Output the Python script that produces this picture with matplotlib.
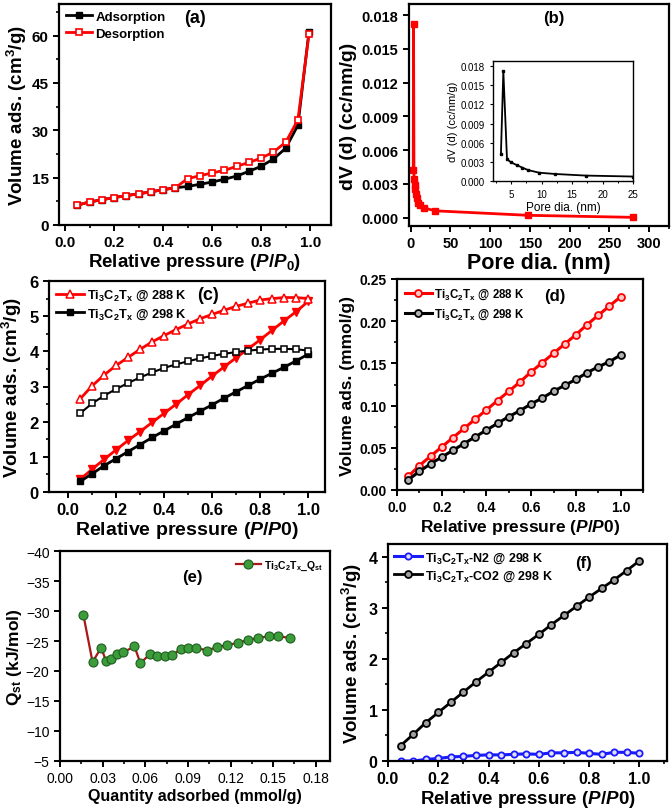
import matplotlib
matplotlib.use("Agg")
import matplotlib.pyplot as plt
from matplotlib.ticker import MultipleLocator, FormatStrFormatter

plt.rcParams['font.family'] = ['Liberation Sans', 'DejaVu Sans']
plt.rcParams['font.weight'] = 'bold'
plt.rcParams['axes.labelweight'] = 'bold'
plt.rcParams['mathtext.fontset'] = 'custom'
plt.rcParams['mathtext.rm'] = 'Liberation Sans:bold'
plt.rcParams['mathtext.bf'] = 'Liberation Sans:bold'
plt.rcParams['mathtext.it'] = 'Liberation Sans:bold:italic'
plt.rcParams['mathtext.default'] = 'bf'

# ---------------- data ----------------
# (a) N2 isotherm
a_x = [0.05, 0.10, 0.15, 0.20, 0.25, 0.30, 0.35, 0.40, 0.45, 0.50, 0.55, 0.60, 0.65,
       0.70, 0.75, 0.80, 0.85, 0.90, 0.95, 0.995]
a_ads = [6.3, 7.3, 8.0, 8.7, 9.3, 9.9, 10.5, 11.2, 11.8, 12.2, 12.9, 13.6, 14.5,
         15.5, 17.0, 18.6, 20.9, 24.3, 31.6, 61.2]
a_des = [6.3, 7.3, 8.0, 8.7, 9.3, 9.9, 10.5, 11.2, 11.8, 14.7, 15.6, 16.5, 17.3,
         18.6, 19.8, 21.2, 23.1, 26.2, 33.3, 60.4]

# (b) pore size distribution
b_d = [3.3, 3.7, 4.3, 5.0, 5.9, 6.8, 7.8, 9.6, 12.2, 17.2, 31.0, 148.0, 280.0]
b_dv = [0.0042, 0.0172, 0.0034, 0.0029, 0.0025, 0.0021, 0.0017, 0.0013, 0.0011,
        0.00085, 0.0006, 0.0002, 0.00002]
inset_d = [3.3, 3.7, 4.3, 5.0, 5.9, 6.8, 7.8, 9.6, 12.2, 17.2, 25.0]
inset_dv = [0.0042, 0.0172, 0.0034, 0.0029, 0.0025, 0.0021, 0.0017, 0.0013, 0.0011,
            0.00085, 0.0007]

# (c) CO2 isotherms
p = [0.05, 0.10, 0.15, 0.20, 0.25, 0.30, 0.35, 0.40, 0.45, 0.50, 0.55, 0.60, 0.65,
     0.70, 0.75, 0.80, 0.85, 0.90, 0.95, 1.00]
c288_ads = [0.36, 0.65, 0.93, 1.20, 1.47, 1.72, 1.98, 2.24, 2.50, 2.77, 3.03, 3.30,
            3.56, 3.82, 4.07, 4.33, 4.60, 4.87, 5.13, 5.42]
c288_des = [2.65, 3.02, 3.33, 3.60, 3.83, 4.06, 4.27, 4.45, 4.62, 4.78, 4.93, 5.05,
            5.17, 5.28, 5.37, 5.46, 5.50, 5.53, 5.53, 5.50]
c298_ads = [0.30, 0.52, 0.75, 0.95, 1.15, 1.35, 1.55, 1.74, 1.93, 2.12, 2.30, 2.48,
            2.67, 2.85, 3.03, 3.21, 3.38, 3.55, 3.73, 3.92]
c298_des = [2.24, 2.52, 2.74, 2.93, 3.10, 3.26, 3.40, 3.53, 3.63, 3.72, 3.80, 3.87,
            3.93, 3.98, 4.02, 4.05, 4.07, 4.07, 4.06, 4.02]

# (d) mmol/g
d288 = [0.016, 0.029, 0.040, 0.051, 0.062, 0.073, 0.084, 0.095, 0.106, 0.117, 0.128,
        0.140, 0.151, 0.162, 0.173, 0.184, 0.196, 0.207, 0.218, 0.229]
d298 = [0.012, 0.022, 0.031, 0.039, 0.047, 0.055, 0.063, 0.071, 0.079, 0.087, 0.094,
        0.102, 0.109, 0.117, 0.124, 0.131, 0.139, 0.146, 0.152, 0.160]

# (e) Qst
e_q = [0.0164, 0.0229, 0.0290, 0.0323, 0.0358, 0.0402, 0.0444, 0.0524, 0.0566, 0.0636,
       0.0683, 0.0739, 0.0790, 0.0849, 0.0898, 0.0959, 0.1033, 0.1108, 0.1176, 0.1253,
       0.1326, 0.1396, 0.1468, 0.1536, 0.1618]
e_qst = [-29.4, -21.5, -23.9, -21.7, -22.0, -22.8, -23.1, -24.1, -21.3, -22.9,
         -22.5, -22.5, -22.6, -23.7, -23.8, -23.9, -23.4, -24.0, -24.3, -24.7,
         -25.2, -25.5, -25.8, -25.8, -25.5]

# (f) N2 vs CO2 at 298 K
f_n2 = [0.00, 0.00, 0.03, 0.05, 0.08, 0.09, 0.11, 0.12, 0.12, 0.13, 0.14, 0.13, 0.16,
        0.16, 0.17, 0.15, 0.13, 0.17, 0.17, 0.15]
f_co2 = c298_ads

W, H = 672, 812
fig = plt.figure(figsize=(W / 100, H / 100), dpi=100)


def add_ax(x0, x1, y0, y1):
    return fig.add_axes([x0 / W, 1 - y1 / H, (x1 - x0) / W, (y1 - y0) / H])


def style(ax, tsize=10.5, bold=True):
    for s in ax.spines.values():
        s.set_linewidth(1.6)
    ax.tick_params(which='major', direction='out', length=4, width=1.4,
                   labelsize=tsize, top=False, right=False)
    ax.tick_params(which='minor', direction='out', length=2.5, width=1.2,
                   top=False, right=False)
    for lab in ax.get_xticklabels() + ax.get_yticklabels():
        lab.set_fontweight('bold' if bold else 'normal')


xlab_rel = r'Relative pressure ($\mathit{P/P0}$)'

# ---- (a)
ax = add_ax(59, 331, 5, 226)
ax.plot(a_x, a_ads, '-s', color='black', lw=2, ms=4.5, label='Adsorption')
ax.plot(a_x, a_des, '-s', color='red', lw=2, ms=5, mfc='white', mec='red',
        mew=1.2, label='Desorption')
ax.set_xlim(-0.025, 1.085)
ax.set_ylim(0, 70)
ax.xaxis.set_major_locator(MultipleLocator(0.2))
ax.xaxis.set_minor_locator(MultipleLocator(0.1))
ax.yaxis.set_major_locator(MultipleLocator(15))
ax.yaxis.set_minor_locator(MultipleLocator(7.5))
ax.set_xlabel(r'Relative pressure ($\mathit{P/P_0}$)', fontsize=13.5, labelpad=1)
ax.set_ylabel(r'Volume ads. (cm$^3$/g)', fontsize=13.5, labelpad=2)
ax.legend(loc='upper left', frameon=False, fontsize=9.5, handlelength=2.0,
          borderaxespad=0.1, handletextpad=0.25, labelspacing=0.35)
ax.text(0.5, 0.94, '(a)', transform=ax.transAxes, fontsize=13, ha='center', va='center')
style(ax, 11)

# ---- (b)
ax = add_ax(409, 669, 5, 227)
ax.plot(b_d, b_dv, '-s', color='red', lw=2, ms=4)
ax.set_xlim(-2, 325)
ax.set_ylim(-0.00075, 0.019)
ax.xaxis.set_major_locator(MultipleLocator(50))
ax.xaxis.set_minor_locator(MultipleLocator(25))
ax.yaxis.set_major_locator(MultipleLocator(0.003))
ax.yaxis.set_major_formatter(FormatStrFormatter('%.3f'))
ax.set_xlabel('Pore dia. (nm)', fontsize=15.5, labelpad=1)
ax.set_ylabel('dV (d) (cc/nm/g)', fontsize=14, labelpad=3)
ax.text(0.558, 0.94, '(b)', transform=ax.transAxes, fontsize=12, ha='center', va='center')
style(ax, 10.5)

axi = add_ax(493, 633, 62, 182)
axi.plot(inset_d, inset_dv, '-s', color='black', lw=1.3, ms=2)
axi.set_xlim(2, 25)
axi.set_ylim(0, 0.0188)
axi.xaxis.set_major_locator(MultipleLocator(5))
axi.xaxis.set_minor_locator(MultipleLocator(2.5))
axi.yaxis.set_major_locator(MultipleLocator(0.003))
axi.yaxis.set_major_formatter(FormatStrFormatter('%.3f'))
axi.set_xlabel('Pore dia. (nm)', fontsize=8.5, fontweight='normal', labelpad=1)
axi.set_ylabel('dV (d) (cc/nm/g)', fontsize=8, fontweight='normal', labelpad=2)
for s in axi.spines.values():
    s.set_linewidth(1.0)
axi.tick_params(which='major', direction='out', length=2.5, width=0.8, labelsize=7)
axi.tick_params(which='minor', direction='out', length=1.5, width=0.7)
for lab in axi.get_xticklabels() + axi.get_yticklabels():
    lab.set_fontweight('normal')

# ---- (c)
ax = add_ax(49, 325, 282, 493)
ax.plot(p, c288_ads, '-v', color='red', lw=2, ms=5.5)
ax.plot(p, c288_des, '-^', color='red', lw=2, ms=6, mfc='white', mec='red', mew=1.1,
        label=r'Ti$_3$C$_2$T$_x$ @ 288 K')
ax.plot(p, c298_ads, '-s', color='black', lw=2, ms=5, label=r'Ti$_3$C$_2$T$_x$ @ 298 K')
ax.plot(p, c298_des, '-s', color='black', lw=1.5, ms=4.5, mfc='white', mec='black', mew=1.1)
ax.set_xlim(-0.08, 1.07)
ax.set_ylim(0, 6)
ax.xaxis.set_major_locator(MultipleLocator(0.2))
ax.xaxis.set_minor_locator(MultipleLocator(0.1))
ax.yaxis.set_major_locator(MultipleLocator(1))
ax.yaxis.set_minor_locator(MultipleLocator(0.5))
ax.set_xlabel(xlab_rel, fontsize=14, labelpad=1)
ax.set_ylabel(r'Volume ads. (cm$^3$/g)', fontsize=13.5, labelpad=4)
ax.legend(loc='upper left', frameon=False, fontsize=9.2, handlelength=2.2,
          borderaxespad=0.15, handletextpad=0.25, labelspacing=0.3)
ax.text(0.576, 0.935, '(c)', transform=ax.transAxes, fontsize=13, ha='center', va='center')
style(ax, 12)

# ---- (d)
ax = add_ax(397, 643, 280, 491)
ax.plot(p, d288, '-o', color='red', lw=2.2, ms=5, mfc='#ffc8c8', mec='red', mew=1.3,
        label=r'Ti$_3$C$_2$T$_x$ @ 288 K')
ax.plot(p, d298, '-o', color='black', lw=2.2, ms=5, mfc='#b0b0b0', mec='black', mew=1.3,
        label=r'Ti$_3$C$_2$T$_x$ @ 298 K')
ax.set_xlim(0, 1.1)
ax.set_ylim(0, 0.25)
ax.xaxis.set_major_locator(MultipleLocator(0.2))
ax.xaxis.set_minor_locator(MultipleLocator(0.1))
ax.yaxis.set_major_locator(MultipleLocator(0.05))
ax.yaxis.set_minor_locator(MultipleLocator(0.025))
ax.yaxis.set_major_formatter(FormatStrFormatter('%.2f'))
ax.set_xlabel(xlab_rel, fontsize=12.5, labelpad=2)
ax.set_ylabel('Volume ads. (mmol/g)', fontsize=12.5, labelpad=3)
ax.legend(loc='upper left', frameon=False, fontsize=8.3, handlelength=2.3,
          borderaxespad=0.3, handletextpad=0.25, labelspacing=0.45)
ax.text(0.64, 0.92, '(d)', transform=ax.transAxes, fontsize=12, ha='center', va='center')
style(ax, 10)

# ---- (e)
ax = add_ax(60, 330, 552, 762)
ax.plot(e_q, e_qst, '-o', color='#a81818', lw=1.6, ms=6.5, mfc='#3c9c3c', mec='#1d5e1d',
        mew=0.8, label=r'Ti$_3$C$_2$T$_x$_Q$_{st}$')
ax.set_xlim(0, 0.19)
ax.set_ylim(-5, -40)
ax.xaxis.set_major_locator(MultipleLocator(0.03))
ax.xaxis.set_minor_locator(MultipleLocator(0.015))
ax.yaxis.set_major_locator(MultipleLocator(5))
ax.xaxis.set_major_formatter(FormatStrFormatter('%.2f'))
ax.set_xlabel('Quantity adsorbed (mmol/g)', fontsize=11.5, labelpad=2)
ax.set_ylabel(r'Q$_{st}$ (kJ/mol)', fontsize=12.5, labelpad=1)
ax.legend(loc='upper right', frameon=False, fontsize=7.5, handlelength=2.4,
          borderaxespad=0.3, handletextpad=0.3)
ax.text(0.49, 0.88, '(e)', transform=ax.transAxes, fontsize=12, ha='center', va='center')
style(ax, 10, bold=False)

# ---- (f)
ax = add_ax(388, 667, 545, 762)
ax.plot(p, f_n2, '-o', color='#1a1aff', lw=2.2, ms=4.5, mfc='#e0e0f0', mec='#1a1aff',
        mew=1.3, label=r'Ti$_3$C$_2$T$_x$-N2 @ 298 K')
ax.plot(p, f_co2, '-o', color='black', lw=2.0, ms=5, mfc='#a0a0a0', mec='black', mew=1.3,
        label=r'Ti$_3$C$_2$T$_x$-CO2 @ 298 K')
ax.set_xlim(0, 1.11)
ax.set_ylim(0, 4.25)
ax.xaxis.set_major_locator(MultipleLocator(0.2))
ax.xaxis.set_minor_locator(MultipleLocator(0.1))
ax.yaxis.set_major_locator(MultipleLocator(1))
ax.yaxis.set_minor_locator(MultipleLocator(0.5))
ax.set_xlabel(xlab_rel, fontsize=13.5, labelpad=1)
ax.set_ylabel(r'Volume ads. (cm$^3$/g)', fontsize=13.5, labelpad=3)
ax.legend(loc='upper left', frameon=False, fontsize=9, handlelength=2.2,
          borderaxespad=0.1, handletextpad=0.25, labelspacing=0.3)
ax.text(0.70, 0.917, '(f)', transform=ax.transAxes, fontsize=12, ha='center', va='center')
style(ax, 11.5)

fig.savefig('out.png', dpi=100)
